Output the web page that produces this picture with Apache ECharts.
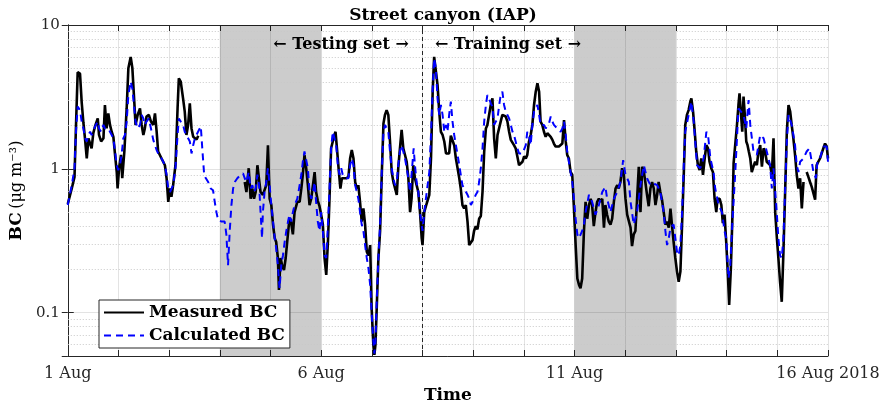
<!DOCTYPE html>
<html><head><meta charset="utf-8">
<script src="https://cdn.jsdelivr.net/npm/echarts@6/dist/echarts.min.js"></script>
<style>html,body{margin:0;padding:0;background:#fff}#c{width:886px;height:411px}</style>
</head><body><div id="c"></div><script>
// Hours since 1 Aug 2018 00:00 and BC values (ug m-3)
const measuredHours = [0.0,1.9,3.2,3.9,4.7,5.8,6.6,7.4,8.2,9.0,9.8,10.6,11.3,12.1,12.9,14.2,14.8,15.8,16.9,17.6,18.4,19.2,20.0,20.8,21.6,22.4,23.2,23.6,24.3,25.2,25.8,26.8,27.9,28.7,29.8,30.6,31.5,32.1,33.1,34.2,35.0,35.8,36.5,37.3,38.4,39.4,40.5,41.3,42.1,42.8,43.6,44.4,45.2,46.0,46.8,47.6,48.4,49.1,49.9,51.0,52.0,52.6,53.5,54.6,55.4,56.2,57.0,57.8,58.6,59.4,60.2,61.0,61.8,63.0,
83.8,84.6,85.7,86.6,87.4,88.2,89.0,89.8,90.6,91.3,92.4,93.2,94.0,94.8,95.6,96.4,97.2,98.0,98.7,99.5,100.0,100.8,101.6,102.4,103.2,103.9,104.7,105.5,106.6,107.4,108.7,109.8,110.6,111.3,112.1,112.9,113.7,114.5,115.3,116.1,116.9,117.6,118.4,119.2,
120.0,120.8,121.6,122.4,123.2,123.9,124.7,125.5,126.3,126.8,127.6,128.4,129.1,129.8,130.7,131.8,132.9,133.7,134.5,135.3,136.1,136.9,137.6,138.4,139.2,140.0,140.8,141.6,142.4,143.2,143.9,144.7,145.2,145.7,146.3,147.1,147.9,148.7,149.5,150.2,151.0,151.8,152.6,153.4,154.2,155.0,155.8,156.5,157.3,158.1,158.9,159.7,160.5,161.3,162.1,162.8,163.6,164.4,165.2,166.0,166.8,167.6,168.0,168.8,169.6,170.4,171.2,172.0,172.8,173.5,174.3,175.1,175.9,176.7,177.5,178.3,179.1,179.8,180.6,
181.4,182.2,183.0,183.8,184.6,185.4,186.1,186.9,187.7,188.5,189.3,190.1,190.9,191.7,192.4,193.2,194.0,194.8,195.6,196.4,197.2,198.0,198.7,199.5,200.3,201.1,201.9,202.7,203.5,204.3,205.0,205.8,206.6,207.4,208.2,209.0,209.8,210.6,211.3,212.1,212.9,213.7,214.5,215.3,216.1,216.9,217.6,218.4,219.2,220.0,220.8,221.6,222.4,223.2,223.9,224.7,225.5,226.3,227.1,227.9,228.7,229.5,230.2,231.0,231.8,232.6,233.4,234.2,235.0,235.8,236.5,237.3,238.1,238.9,239.7,240.5,241.3,242.1,242.8,243.6,
244.4,245.2,246.0,246.8,247.6,248.3,249.1,249.9,250.7,251.5,252.3,253.1,253.9,254.6,255.4,256.2,257.0,257.8,258.6,259.4,260.2,260.9,261.7,262.5,263.3,264.1,264.9,265.7,266.5,267.2,268.0,268.8,269.6,270.4,271.2,272.0,272.8,273.5,274.3,275.1,275.9,276.7,277.5,278.3,279.1,279.8,280.6,281.4,282.2,283.0,283.8,284.6,285.4,286.1,286.9,287.7,288.5,289.3,290.1,290.9,291.7,292.4,293.2,294.0,294.8,295.3,296.1,296.9,297.6,298.4,299.2,300.0,300.8,301.6,302.4,303.2,303.9,304.7,305.5,306.3,
307.1,307.7,308.7,309.5,310.2,311.0,311.8,312.6,313.2,314.0,314.8,315.3,316.1,316.9,317.6,318.1,318.7,319.4,320.0,320.6,321.3,321.9,322.5,323.2,323.9,324.7,325.5,326.3,327.1,327.9,328.7,329.5,330.2,331.0,331.8,332.6,333.4,334.2,335.0,335.8,336.5,337.3,338.1,338.9,339.7,340.5,341.3,342.1,342.8,343.6,344.4,345.2,346.0,346.8,347.6,348.4,349.1,349.9,350.7,351.5,352.3,353.1,353.9,354.6,355.4,356.2,357.0,357.8,358.6,359.4,360.0];
const measuredBC = [0.57,0.73,0.88,2.0,4.7,4.6,2.9,2.1,1.6,1.18,1.63,1.67,1.39,1.77,1.97,2.24,1.72,1.55,1.63,2.78,1.91,2.43,2.02,1.81,1.67,1.25,0.95,0.73,1.01,1.25,0.86,1.32,2.63,5.0,6.0,5.0,2.93,2.02,2.37,2.63,2.02,1.72,1.91,2.31,2.37,2.13,2.02,2.43,1.81,1.32,1.28,1.18,1.12,1.06,0.86,0.59,0.73,0.64,0.77,1.06,2.63,4.26,4.04,3.09,2.5,1.72,2.02,2.85,1.91,1.67,1.72,1.6,1.7,null,
0.81,0.69,1.01,0.62,0.73,0.62,0.69,1.06,1.04,0.69,0.66,0.64,0.77,1.46,0.62,0.56,0.41,0.33,0.31,0.24,0.144,0.24,0.21,0.198,0.24,0.31,0.41,0.45,0.35,0.5,0.59,0.59,0.73,0.91,1.25,1.01,0.77,0.56,0.62,0.77,0.95,0.69,0.6,0.55,
0.48,0.41,0.24,0.183,0.31,0.59,1.39,1.55,1.72,1.81,1.32,0.95,0.73,0.86,0.86,0.86,0.88,1.18,1.35,1.18,0.81,0.73,0.77,0.59,0.43,0.53,0.41,0.265,0.25,0.295,0.107,0.06,0.051,0.06,0.107,0.24,0.37,0.91,2.07,2.37,2.56,2.37,1.55,0.95,0.81,0.73,0.66,1.01,1.39,1.87,1.39,1.35,1.12,0.86,0.5,0.62,1.06,0.86,0.77,0.69,0.5,0.33,0.295,0.5,0.55,0.56,0.66,1.18,3.44,6.0,5.87,3.83,2.5,1.81,1.72,1.55,1.28,1.25,1.28,
1.7,1.72,1.46,1.18,1.01,0.86,0.73,0.56,0.53,0.56,0.43,0.295,0.3,0.32,0.37,0.4,0.38,0.45,0.47,0.69,1.32,1.91,2.02,1.97,2.78,3.09,1.63,1.18,1.72,1.77,2.13,2.37,2.43,2.31,2.13,1.81,1.59,1.55,1.46,1.39,1.22,1.06,1.035,1.12,1.22,1.18,1.25,1.55,1.72,2.02,2.78,3.44,3.93,3.44,2.13,2.02,1.81,1.67,1.77,1.77,1.67,1.59,1.5,1.43,1.46,1.43,1.43,1.5,2.18,1.55,1.25,1.18,0.95,0.91,0.53,0.295,0.173,0.156,0.148,0.173,
0.36,0.59,0.45,0.56,0.62,0.56,0.4,0.5,0.59,0.62,0.59,0.62,0.39,0.56,0.48,0.43,0.41,0.45,0.59,0.73,0.77,0.73,0.81,1.01,0.91,0.62,0.48,0.49,0.39,0.29,0.35,0.37,0.62,1.035,0.5,1.035,0.95,0.81,0.66,0.55,0.73,0.81,0.73,0.56,0.66,0.81,0.69,0.61,0.5,0.41,0.43,0.39,0.53,0.41,0.31,0.24,0.193,0.164,0.193,0.41,0.91,2.02,2.37,2.56,2.93,3.09,2.5,1.81,1.32,1.06,0.98,1.18,0.91,1.18,1.46,1.39,1.12,1.01,0.95,0.62,
0.5,0.62,0.62,0.56,0.42,0.48,0.31,0.183,0.113,0.203,0.5,1.09,1.12,2.02,2.78,3.35,3.26,1.81,3.18,2.37,1.55,1.46,1.32,1.18,0.95,1.035,1.12,1.06,1.32,1.46,1.035,1.39,1.32,1.12,1.12,1.06,0.91,1.63,0.5,0.33,0.24,0.164,0.119,0.265,0.69,1.81,2.78,2.5,2.02,1.63,1.25,0.91,0.73,0.86,0.53,0.81,null,0.95,0.88,0.81,0.75,0.77,0.61,1.06,1.12,1.18,1.28,1.39,1.5,1.43,1.18];

const calculatedHours = [0.0,1.9,3.2,3.9,4.7,5.8,6.6,7.4,8.2,9.0,9.8,10.6,11.3,12.1,12.9,14.2,14.8,15.8,16.9,17.6,18.4,19.2,20.0,20.8,21.6,22.4,23.2,23.9,24.7,25.5,26.3,27.1,27.9,28.7,29.8,30.6,31.5,32.1,33.1,34.2,35.0,35.8,36.5,37.3,38.4,39.4,40.5,41.3,42.1,42.8,43.6,44.4,45.2,46.0,46.8,47.6,48.4,49.1,49.9,51.0,52.0,52.6,53.5,54.6,55.4,56.2,57.0,57.8,58.6,59.4,60.2,61.7,63.0,63.8,64.6,65.4,66.5,67.7,68.8,69.6,70.4,71.2,72.8,74.3,75.1,75.9,76.7,77.5,78.3,79.1,80.3,81.9,83.0,
83.8,84.6,85.7,86.6,87.4,88.2,89.0,89.8,90.6,91.3,92.0,92.4,93.2,94.0,94.8,95.6,96.4,97.2,98.0,98.7,99.5,100.3,101.1,101.9,102.7,103.5,104.3,105.0,105.8,106.6,107.4,108.7,109.8,110.6,111.3,112.1,112.9,113.7,114.5,115.3,116.1,116.9,117.6,118.4,119.2,
120.0,120.8,121.6,122.4,123.2,123.9,124.7,125.5,126.3,127.1,127.9,128.7,129.5,130.2,131.8,132.9,133.7,134.5,135.3,136.1,136.9,137.6,138.4,139.2,140.0,140.8,141.6,142.4,143.2,143.9,144.7,145.2,145.7,146.3,147.1,147.9,148.7,149.5,150.2,151.0,151.8,152.6,153.4,154.2,155.0,155.8,156.5,157.3,158.1,158.9,159.7,160.5,161.3,162.1,162.8,163.8,164.4,165.2,166.0,166.8,167.6,168.0,168.8,169.6,170.4,171.2,172.0,172.8,173.5,174.3,175.1,175.9,176.7,177.5,178.3,179.1,179.8,180.6,181.4,
182.2,183.0,183.8,184.6,185.4,186.1,186.9,187.7,188.5,189.3,190.1,190.9,191.7,192.4,193.2,194.0,194.8,195.6,196.4,197.2,198.0,198.7,199.5,200.3,201.1,201.9,202.7,203.5,204.3,205.0,205.8,206.6,207.4,208.2,209.0,209.8,210.6,211.3,212.1,212.9,213.7,214.5,215.3,216.1,216.9,217.6,218.4,219.2,220.0,220.8,221.6,222.4,223.2,223.9,224.7,225.5,226.3,227.1,227.9,228.7,229.5,230.2,231.0,231.8,232.6,233.4,234.2,235.0,235.8,236.5,237.3,238.1,238.9,239.7,240.5,241.3,242.1,242.8,243.6,244.4,
245.2,246.8,248.3,249.9,251.5,253.1,254.6,255.4,257.0,258.6,260.2,261.7,263.0,264.1,265.7,266.5,268.0,269.6,271.2,272.8,274.3,275.9,277.5,279.1,280.6,282.2,283.0,283.8,284.6,285.4,286.9,288.5,289.3,290.1,290.9,291.7,292.4,294.0,295.3,296.4,298.0,299.5,301.1,302.4,303.2,304.3,305.8,
306.6,308.2,309.8,311.0,311.8,312.9,313.7,314.5,316.1,317.6,318.4,320.0,321.3,322.4,323.2,324.7,326.3,327.9,329.5,331.0,332.6,333.4,334.2,335.8,336.5,337.3,338.1,338.9,340.5,341.3,342.8,344.4,345.2,346.0,346.8,348.4,349.9,351.2,352.3,353.1,354.3,355.0,356.2,357.8,359.4,360.0];
const calculatedBC = [0.56,0.77,1.01,1.81,2.71,2.56,2.13,1.91,1.63,1.55,1.72,1.81,1.72,1.81,1.97,2.13,1.91,1.81,2.02,1.91,1.97,1.91,1.81,1.72,1.63,1.32,1.06,0.98,1.06,1.25,1.63,1.72,2.13,3.26,4.04,3.6,2.63,2.13,1.91,2.02,2.37,2.24,2.02,2.13,2.24,1.91,1.59,1.46,1.35,1.28,1.25,1.18,1.12,1.06,0.91,0.73,0.69,0.71,0.77,1.01,1.72,2.24,2.13,2.02,1.81,1.72,1.63,1.55,1.28,1.46,1.63,1.81,1.97,1.32,0.91,0.86,0.81,0.73,0.71,0.59,0.5,0.44,0.43,0.43,0.35,0.214,0.37,0.56,0.73,0.81,0.86,0.91,0.93,
0.86,0.81,0.95,0.73,0.77,0.69,0.73,0.91,0.77,0.5,0.33,0.5,0.69,0.81,1.01,0.77,0.56,0.43,0.33,0.28,0.214,0.148,0.214,0.25,0.31,0.37,0.43,0.48,0.43,0.5,0.56,0.62,0.77,0.91,1.12,1.32,1.35,1.01,0.69,0.62,0.69,0.81,0.59,0.43,0.37,
0.5,0.37,0.25,0.24,0.41,0.69,1.39,1.81,1.63,1.46,1.06,0.91,1.01,0.91,0.86,0.86,1.06,1.18,1.06,0.77,0.69,0.62,0.5,0.41,0.37,0.295,0.24,0.203,0.156,0.1,0.063,0.052,0.063,0.119,0.24,0.41,0.95,1.81,2.02,2.02,1.81,1.32,1.01,0.86,0.77,0.81,1.06,1.32,1.46,1.32,1.18,1.01,0.86,0.69,0.91,1.39,1.06,0.81,0.69,0.5,0.41,0.37,0.5,0.62,0.77,0.95,1.72,3.6,5.87,5.0,3.09,2.37,2.78,2.37,1.81,2.02,1.81,2.37,2.93,
2.13,1.72,1.46,1.25,1.06,0.91,0.77,0.73,0.73,0.66,0.62,0.56,0.59,0.62,0.66,0.69,0.81,1.01,1.39,2.13,2.78,3.26,3.09,2.85,2.71,2.02,2.13,2.24,2.78,3.26,3.44,2.78,2.5,2.37,2.24,2.02,1.81,1.72,1.55,1.39,1.28,1.25,1.28,1.32,1.46,1.81,1.72,1.46,2.02,2.5,2.63,2.78,2.37,2.02,2.02,2.02,1.91,1.87,2.07,2.31,2.13,2.02,1.97,1.91,1.87,1.81,1.91,2.13,1.72,1.32,1.12,0.95,0.81,0.62,0.45,0.35,0.33,0.33,0.37,0.41,
0.5,0.66,0.59,0.48,0.56,0.69,0.75,0.62,0.5,0.62,0.69,0.81,1.15,0.91,0.81,0.59,0.41,0.5,0.77,1.06,0.86,0.77,0.79,0.77,0.69,0.5,0.37,0.295,0.33,0.39,0.41,0.265,0.25,0.295,0.5,1.06,1.81,2.37,2.93,2.13,1.06,1.01,1.18,1.81,1.72,1.18,0.95,
0.73,0.56,0.5,0.37,0.33,0.173,0.214,0.37,0.95,2.63,2.71,2.37,1.91,3.01,2.02,1.32,1.25,1.72,1.63,1.32,1.06,0.73,1.01,0.48,0.33,0.25,0.24,0.33,1.55,2.37,2.02,1.46,1.06,0.95,1.12,1.18,1.32,1.39,1.12,0.95,0.86,1.12,1.18,1.43,1.43,1.12];

const tickLabels = ['1 Aug', '6 Aug', '11 Aug', '16 Aug 2018'];
const shadedRanges = [[72, 120], [240, 288]];   // hours: 4–6 Aug, 11–13 Aug
const splitHour = 168;                           // 8 Aug
const minorGridValues = [0.06,0.07,0.08,0.09,0.2,0.3,0.4,0.5,0.6,0.7,0.8,0.9,2,3,4,5,6,7,8,9];

const SERIF = 'DejaVu Serif';
const AXIS = '#262626';
const pair = (hs, vs) => hs.map((h, i) => [h, vs[i]]);

const chart = echarts.init(document.getElementById('c'), null, {renderer: 'canvas'});
const decadeLabel = v => {
  const l = Math.log10(v);
  if (Math.abs(l - Math.round(l)) > 1e-6) return '';
  const r = Math.round(l);
  return r >= 0 ? String(Math.pow(10, r)) : String(+Math.pow(10, r).toPrecision(1));
};
chart.setOption({
  animation: false,
  backgroundColor: '#fff',
  title: {
    text: 'Street canyon (IAP)', left: 'center', top: 2,
    textStyle: {fontFamily: SERIF, fontWeight: 'bold', fontSize: 17, color: '#000'}
  },
  grid: {left: 66, right: 58, top: 25, bottom: 55, containLabel: false},
  legend: {
    left: 99, top: 300, orient: 'vertical',
    itemWidth: 40, itemHeight: 12, itemGap: 6,
    padding: [4, 5, 4, 4],
    borderColor: AXIS, borderWidth: 1, backgroundColor: '#fff',
    itemStyle: {color: 'rgba(0,0,0,0)', borderColor: 'rgba(0,0,0,0)', borderWidth: 0, opacity: 0},
    textStyle: {fontFamily: SERIF, fontWeight: 'bold', fontSize: 17, color: '#000'},
    data: ['Measured BC', 'Calculated BC']
  },
  xAxis: [{
    type: 'value', min: 0, max: 360, interval: 24,
    name: 'Time', nameLocation: 'middle', nameGap: 31,
    nameTextStyle: {fontFamily: SERIF, fontWeight: 'bold', fontSize: 17, color: '#000'},
    axisLine: {show: true, lineStyle: {color: AXIS, width: 1}},
    axisTick: {show: true, inside: true, length: 6, lineStyle: {color: AXIS}},
    axisLabel: {
      fontFamily: SERIF, fontSize: 16, color: '#262626', margin: 10,
      showMinLabel: true, showMaxLabel: true,
      formatter: v => (v % 120 === 0 ? tickLabels[v / 120] : '')
    },
    splitLine: {show: true, lineStyle: {color: '#e3e3e3', width: 1}}
  }, {
    type: 'value', min: 0, max: 360, interval: 24, position: 'top',
    axisLine: {show: true, lineStyle: {color: AXIS, width: 1}},
    axisTick: {show: true, inside: true, length: 6, lineStyle: {color: AXIS}},
    axisLabel: {show: false}, splitLine: {show: false}
  }],
  yAxis: [{
    type: 'log', logBase: 10, min: 0.05, max: 10,
    name: '{b|BC} {n|(μg m⁻³)}', nameLocation: 'middle', nameGap: 37,
    nameTextStyle: {
      color: '#000',
      rich: {
        b: {fontFamily: SERIF, fontWeight: 'bold', fontSize: 17, color: '#000'},
        n: {fontFamily: SERIF, fontSize: 16, color: '#000'}
      }
    },
    axisLine: {show: true, lineStyle: {color: AXIS, width: 1}},
    axisTick: {show: true, inside: true, length: 6, lineStyle: {color: AXIS}},
    axisLabel: {fontFamily: SERIF, fontSize: 15, color: '#262626', margin: 8, showMinLabel: false, formatter: decadeLabel},
    splitLine: {show: true, lineStyle: {color: '#e3e3e3', width: 1}}
  }, {
    type: 'log', logBase: 10, min: 0.05, max: 10, position: 'right',
    axisLine: {show: true, lineStyle: {color: AXIS, width: 1}},
    axisTick: {show: true, inside: true, length: 6, lineStyle: {color: AXIS}},
    axisLabel: {show: false}, splitLine: {show: false}
  }],
  graphic: [
    {type: 'text', x: 341, y: 45, z: 10, style: {text: '← Testing set →', fontFamily: SERIF, fontWeight: 'bold', fontSize: 16, fill: '#000', align: 'center', verticalAlign: 'middle'}},
    {type: 'text', x: 508, y: 45, z: 10, style: {text: '← Training set →', fontFamily: SERIF, fontWeight: 'bold', fontSize: 16, fill: '#000', align: 'center', verticalAlign: 'middle'}}
  ],
  series: [{
    name: 'background', type: 'line', data: [], silent: true, z: 1,
    markArea: {
      silent: true, z: 1,
      itemStyle: {color: 'rgba(0,0,0,0.2)'},
      data: shadedRanges.map(r => [{xAxis: r[0]}, {xAxis: r[1]}])
    },
    markLine: {
      silent: true, z: 1.5, symbol: ['none', 'none'], animation: false,
      label: {show: false},
      lineStyle: {color: '#c8c8c8', type: [1, 2], width: 1},
      data: minorGridValues.map(v => ({yAxis: v}))
    }
  }, {
    name: 'split', type: 'line', data: [], silent: true, z: 1.6,
    markLine: {
      silent: true, z: 1.6, symbol: ['none', 'none'], animation: false,
      label: {show: false},
      lineStyle: {color: '#262626', type: [4, 3], width: 1},
      data: [{xAxis: splitHour}]
    }
  }, {
    name: 'Measured BC', type: 'line', z: 2,
    data: pair(measuredHours, measuredBC),
    symbol: 'none', connectNulls: false,
    lineStyle: {color: '#000', width: 2.6},
    itemStyle: {color: '#000'}
  }, {
    name: 'Calculated BC', type: 'line', z: 3,
    data: pair(calculatedHours, calculatedBC),
    symbol: 'none',
    lineStyle: {color: '#0000ff', width: 2, type: [7, 5]},
    itemStyle: {color: '#0000ff'}
  }]
});
</script></body></html>
